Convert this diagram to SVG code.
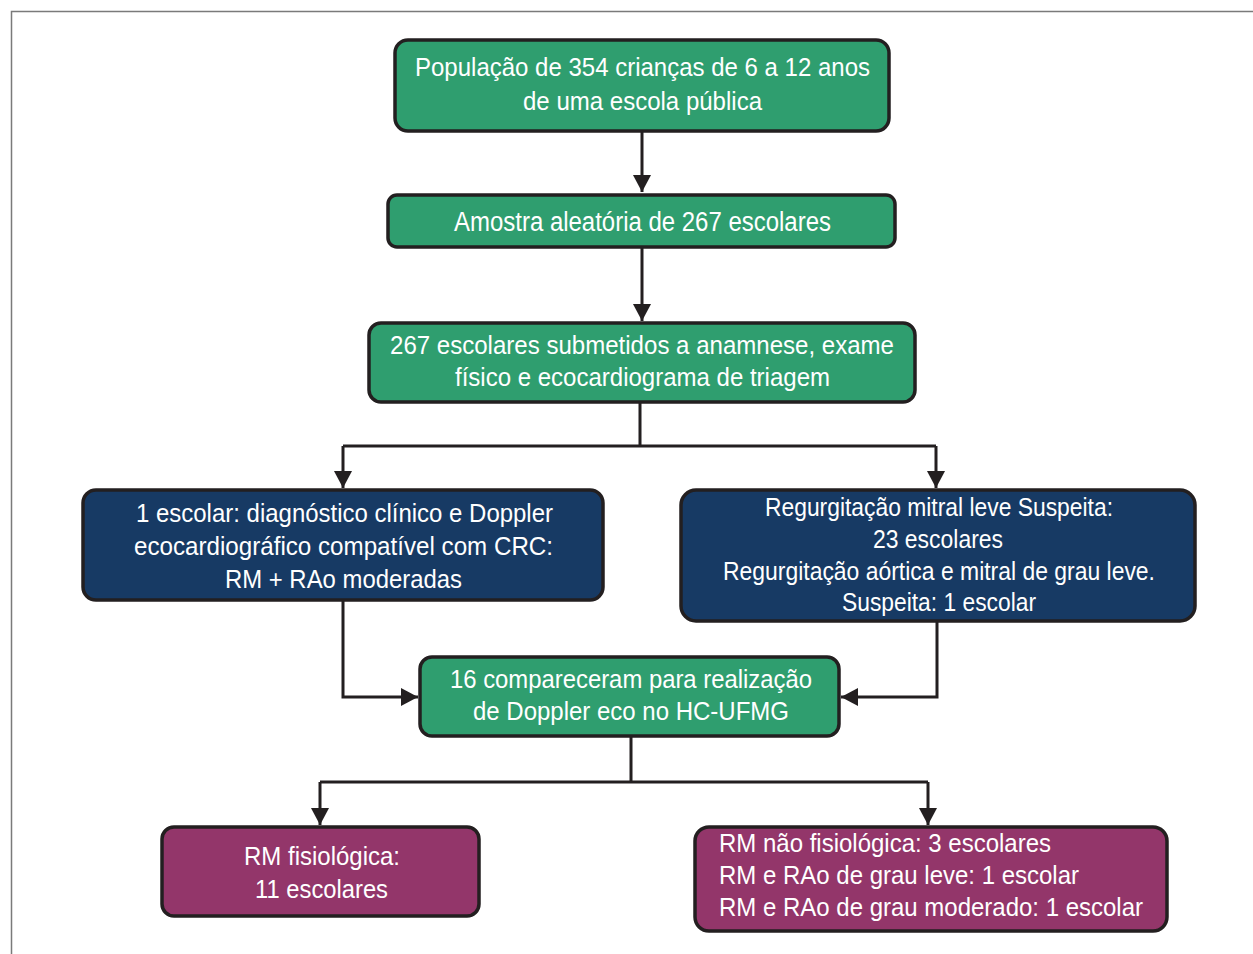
<svg xmlns="http://www.w3.org/2000/svg" width="1253" height="954" viewBox="0 0 1253 954">
<style>
.box{stroke:#231f20;stroke-width:3.5}
.g{fill:#2f9e6f}
.n{fill:#173a64}
.p{fill:#93366a}
.t{font-family:"Liberation Sans",Arial,sans-serif;font-size:26px;fill:#ffffff}
.c{fill:none;stroke:#231f20;stroke-width:3}
</style>
<defs>
<marker id="ah" markerUnits="userSpaceOnUse" markerWidth="20" markerHeight="18" refX="17" refY="9" orient="auto">
<path d="M0,0 L17,9 L0,18 Z" fill="#231f20"/>
</marker>
</defs>
<rect width="1253" height="954" fill="#ffffff"/>
<path d="M11.5,954 V11.5 H1253" fill="none" stroke="#7a7a7a" stroke-width="1.5"/>
<g id="connectors">
<path class="c" d="M642,131 V192" marker-end="url(#ah)"/>
<path class="c" d="M642,247 V321" marker-end="url(#ah)"/>
<path class="c" d="M640,402 V446 M343,446 H936"/>
<path class="c" d="M343,446 V488" marker-end="url(#ah)"/>
<path class="c" d="M936,446 V488" marker-end="url(#ah)"/>
<path class="c" d="M343,600 V697 H418" marker-end="url(#ah)"/>
<path class="c" d="M937,621 V697 H841" marker-end="url(#ah)"/>
<path class="c" d="M631,736 V782 M320,782 H928"/>
<path class="c" d="M320,782 V825" marker-end="url(#ah)"/>
<path class="c" d="M928,782 V825" marker-end="url(#ah)"/>
</g>
<g id="n1">
<rect class="box g" x="395" y="40" width="494" height="91" rx="13"/>
<text class="t" x="415" y="76" textLength="455" lengthAdjust="spacingAndGlyphs">População de 354 crianças de 6 a 12 anos</text>
<text class="t" x="523" y="110" textLength="239" lengthAdjust="spacingAndGlyphs">de uma escola pública</text>
</g>
<g id="n2">
<rect class="box g" x="388" y="195" width="507" height="52" rx="9"/>
<text class="t" x="454" y="231" textLength="377" lengthAdjust="spacingAndGlyphs" style="font-size:27px">Amostra aleatória de 267 escolares</text>
</g>
<g id="n3">
<rect class="box g" x="369" y="323" width="546" height="79" rx="12"/>
<text class="t" x="390" y="354" textLength="504" lengthAdjust="spacingAndGlyphs">267 escolares submetidos a anamnese, exame</text>
<text class="t" x="455" y="386" textLength="375" lengthAdjust="spacingAndGlyphs">físico e ecocardiograma de triagem</text>
</g>
<g id="n4">
<rect class="box n" x="83" y="490" width="520" height="110" rx="13"/>
<text class="t" x="136" y="522" textLength="417" lengthAdjust="spacingAndGlyphs">1 escolar: diagnóstico clínico e Doppler</text>
<text class="t" x="134" y="555" textLength="419" lengthAdjust="spacingAndGlyphs">ecocardiográfico compatível com CRC:</text>
<text class="t" x="225" y="588" textLength="237" lengthAdjust="spacingAndGlyphs">RM + RAo moderadas</text>
</g>
<g id="n5">
<rect class="box n" x="681" y="490" width="514" height="131" rx="15"/>
<text class="t" x="765" y="516" textLength="348" lengthAdjust="spacingAndGlyphs">Regurgitação mitral leve Suspeita:</text>
<text class="t" x="873" y="548" textLength="130" lengthAdjust="spacingAndGlyphs">23 escolares</text>
<text class="t" x="723" y="580" textLength="432" lengthAdjust="spacingAndGlyphs">Regurgitação aórtica e mitral de grau leve.</text>
<text class="t" x="842" y="611" textLength="194" lengthAdjust="spacingAndGlyphs">Suspeita: 1 escolar</text>
</g>
<g id="n6">
<rect class="box g" x="420" y="657" width="419" height="79" rx="12"/>
<text class="t" x="450" y="688" textLength="362" lengthAdjust="spacingAndGlyphs">16 compareceram para realização</text>
<text class="t" x="473" y="720" textLength="316" lengthAdjust="spacingAndGlyphs">de Doppler eco no HC-UFMG</text>
</g>
<g id="n7">
<rect class="box p" x="162" y="827" width="317" height="89" rx="12"/>
<text class="t" x="244" y="865" textLength="156" lengthAdjust="spacingAndGlyphs">RM fisiológica:</text>
<text class="t" x="255" y="898" textLength="133" lengthAdjust="spacingAndGlyphs">11 escolares</text>
</g>
<g id="n8">
<rect class="box p" x="695" y="827" width="472" height="104" rx="14"/>
<text class="t" x="719" y="852" textLength="332" lengthAdjust="spacingAndGlyphs">RM não fisiológica: 3 escolares</text>
<text class="t" x="719" y="884" textLength="360" lengthAdjust="spacingAndGlyphs">RM e RAo de grau leve: 1 escolar</text>
<text class="t" x="719" y="916" textLength="424" lengthAdjust="spacingAndGlyphs">RM e RAo de grau moderado: 1 escolar</text>
</g>
</svg>
